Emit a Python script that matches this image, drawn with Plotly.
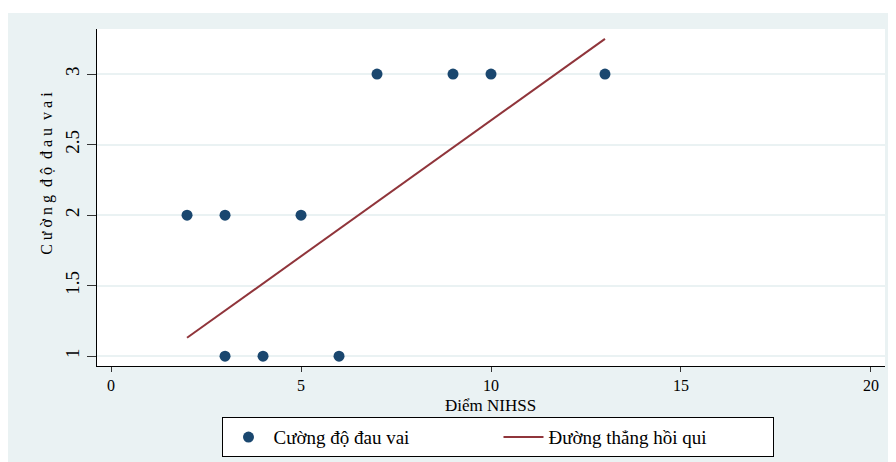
import plotly.graph_objects as go

# Data
nihss = [2, 3, 5, 3, 4, 6, 7, 9, 10, 13]
pain = [2, 2, 2, 1, 1, 1, 3, 3, 3, 3]
fit_x = [2, 13]
fit_y = [1.13, 3.25]
x_ticks = [0, 5, 10, 15, 20]
y_ticks = [1, 1.5, 2, 2.5, 3]
y_tick_labels = ["1", "1.5", "2", "2.5", "3"]

FONT = "Liberation Serif"
BG = "#EAF2F3"

fig = go.Figure()
fig.add_trace(go.Scatter(
    x=nihss, y=pain, mode="markers", name="Cường độ đau vai",
    marker=dict(color="#1A476F", size=11, line=dict(width=0)),
))
fig.add_trace(go.Scatter(
    x=fit_x, y=fit_y, mode="lines", name="Đường thẳng hồi qui",
    line=dict(color="#90353B", width=2),
))

fig.update_layout(
    width=888, height=454,
    margin=dict(l=89, r=11, t=21, b=96, autoexpand=False),
    paper_bgcolor=BG, plot_bgcolor="white",
    font=dict(family=FONT, size=17, color="black"),
    showlegend=True,
    legend=dict(
        orientation="h", x=0.5095, xanchor="center", y=-0.152, yanchor="top",
        bordercolor="black", borderwidth=1, bgcolor="white",
        font=dict(family=FONT, size=19), itemwidth=40,
        entrywidth=220, entrywidthmode="pixels",
    ),
    xaxis=dict(
        range=[-0.37, 20.37], tickvals=x_ticks, showgrid=False, zeroline=False,
        showline=True, linecolor="black", linewidth=1, automargin=False,
        ticks="outside", ticklen=5, tickcolor="#333", tickwidth=1,
        tickfont=dict(size=16),
    ),
    yaxis=dict(
        range=[0.93, 3.32], tickvals=y_ticks, ticktext=y_tick_labels,
        tickangle=-90, showgrid=True, gridcolor=BG, gridwidth=2, zeroline=False,
        showline=True, linecolor="black", linewidth=1, automargin=False,
        ticks="outside", ticklen=9, tickcolor="#333", tickwidth=1,
        tickfont=dict(size=19),
    ),
    annotations=[
        dict(text="Điểm NIHSS", xref="paper", yref="paper", x=0.499, y=-0.118,
             xanchor="center", yanchor="middle", showarrow=False,
             font=dict(size=17)),
        dict(text="C ư ờ n g  đ ộ  đ a u  v a i", xref="paper", yref="paper",
             x=-0.0635, y=0.573, xanchor="center", yanchor="middle",
             textangle=-90, showarrow=False, font=dict(size=16)),
    ],
    shapes=[
        dict(type="rect", xref="paper", yref="paper", x0=-0.2, x1=1.1,
             y0=1.0475, y1=1.2, fillcolor="white", line=dict(width=0), layer="below"),
    ],
)

fig.write_html("out.html")
